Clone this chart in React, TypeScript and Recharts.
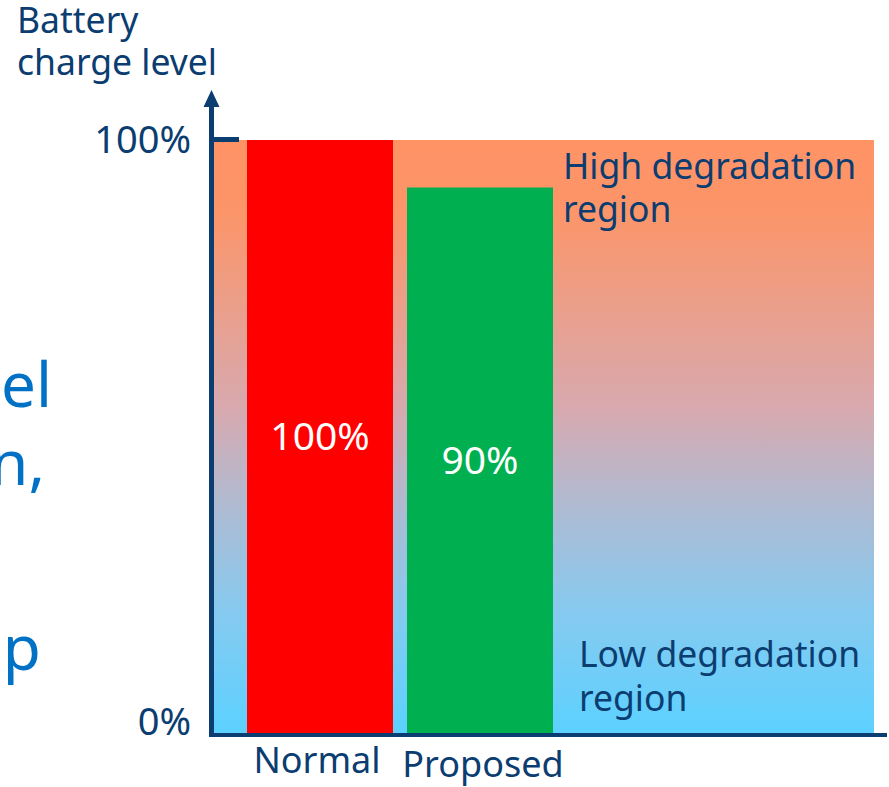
import React from 'react';
import { BarChart, Bar, XAxis, YAxis, CartesianGrid, Cell, LabelList } from 'recharts';

const categories = ['Normal', 'Proposed'];
const chargeLevels = [100, 92];
const barLabels = ['100%', '90%'];
const barColors = ['#ff0000', '#00b050'];
const yTicks = [0, 100];

const data = categories.map((name, i) => ({ name, value: chargeLevels[i], label: barLabels[i] }));

const NAVY = '#0b3d71';
const FONT = '"Noto Sans", "Open Sans", sans-serif';

// small nudges so the two category names sit like the slide
const xNudge = [
  { dx: -3, dy: 0 },
  { dx: 3, dy: 4 },
];

const XTick = (props: any) => {
  const { x, y, payload, index } = props;
  const n = xNudge[index] || { dx: 0, dy: 0 };
  return (
    <text x={x + n.dx} y={y + 40 + n.dy} textAnchor='middle' fill={NAVY} fontSize={36} fontFamily={FONT}>
      {payload.value}
    </text>
  );
};

const YTick = (props: any) => {
  const { x, y, payload } = props;
  const dy = payload.value === 0 ? 2 : 13;
  return (
    <text x={x} y={y + dy} textAnchor='end' fill={NAVY} fontSize={38} fontFamily={FONT}>
      {payload.value}%
    </text>
  );
};

// axis arrow, tick and annotations drawn on top of the plot
const Decor = () => (
  <g>
    <line x1={211.5} y1={104} x2={211.5} y2={737} stroke={NAVY} strokeWidth={5} />
    <polygon points='203.5,107 219.5,107 211.5,90' fill={NAVY} />
    <line x1={211} y1={139.5} x2={239} y2={139.5} stroke={NAVY} strokeWidth={5} />
    <line x1={209} y1={735} x2={887} y2={735} stroke={NAVY} strokeWidth={4} />
    <text fill={NAVY} fontSize={35.5} fontFamily={FONT}>
      <tspan x={17} y={33}>Battery</tspan>
      <tspan x={17} y={75}>charge level</tspan>
    </text>
    <text fill={NAVY} fontSize={35.5} fontFamily={FONT}>
      <tspan x={563} y={179}>High degradation</tspan>
      <tspan x={563} y={222}>region</tspan>
    </text>
    <text fill={NAVY} fontSize={35.5} fontFamily={FONT}>
      <tspan x={579} y={667}>Low degradation</tspan>
      <tspan x={579} y={711}>region</tspan>
    </text>
    <text fill='#0071c5' fontSize={62} fontFamily={FONT} textAnchor='end'>
      <tspan x={52} y={407}>el</tspan>
      <tspan x={45} y={485}>n,</tspan>
      <tspan x={41} y={670}>p</tspan>
    </text>
  </g>
);

export default function App() {
  return (
    <div style={{ position: 'absolute', left: 0, top: 0, width: 889, height: 787, background: '#fff' }}>
      <BarChart
        width={889}
        height={787}
        data={data}
        margin={{ top: 140, right: 15, bottom: 0, left: 0 }}
      >
        <defs>
          <linearGradient id='bgGrad' x1='0' y1='0' x2='0' y2='1'>
            <stop offset='0%' stopColor='#ff9366' />
            <stop offset='12%' stopColor='#fc9569' />
            <stop offset='45%' stopColor='#d8a9ae' />
            <stop offset='60%' stopColor='#b3b9cf' />
            <stop offset='80%' stopColor='#85caf0' />
            <stop offset='100%' stopColor='#5cd1ff' />
          </linearGradient>
        </defs>
        <CartesianGrid horizontal={false} vertical={false} fill='url(#bgGrad)' fillOpacity={1} stroke='none' />
        <XAxis
          dataKey='name'
          height={54}
          padding={{ left: 26, right: 314 }}
          axisLine={false}
          tickLine={false}
          tickSize={0}
          tickMargin={0}
          tick={<XTick />}
          interval={0}
        />
        <YAxis
          width={214}
          domain={[0, 100]}
          ticks={yTicks}
          axisLine={false}
          tickLine={false}
          tickSize={0}
          tickMargin={23}
          tick={<YTick />}
        />
        <Bar dataKey='value' barSize={146} isAnimationActive={false}>
          {data.map((d, i) => (
            <Cell key={d.name} fill={barColors[i]} />
          ))}
          <LabelList dataKey='label' position='center' fill='#ffffff' fontSize={39} fontFamily={FONT} />
        </Bar>
        <Decor />
      </BarChart>
    </div>
  );
}
